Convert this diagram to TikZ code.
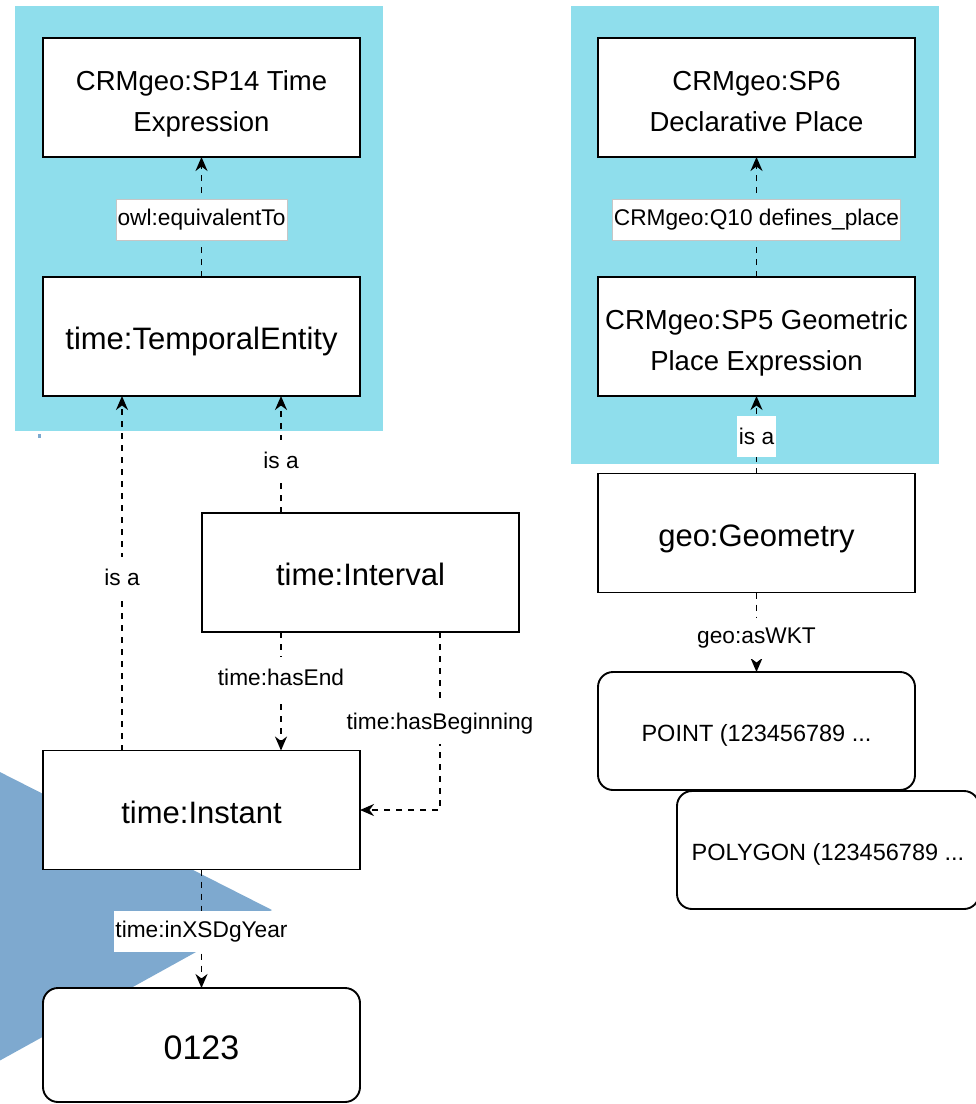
\documentclass[tikz,border=0pt]{standalone}
\usepackage{fontspec}
\setmainfont{Liberation Sans}
\usetikzlibrary{arrows.meta}
\definecolor{panel}{RGB}{143,222,236}
\definecolor{tri}{RGB}{126,169,207}
\begin{document}
\begin{tikzpicture}[x=1pt,y=-1pt,
  box/.style={draw,solid,line width=1.9pt,fill=white,minimum width=317pt,minimum height=119pt,inner sep=0pt,outer sep=0pt,align=center},
  big/.style={font=\fontsize{31}{37}\selectfont,text height=26pt,text depth=0pt},
  two/.style={font=\fontsize{27.5}{41}\selectfont,text height=67pt,text depth=0pt},
  small/.style={font=\fontsize{23.5}{28}\selectfont,text height=20pt,text depth=0pt},
  rbox/.style={box,rounded corners=15pt},
  edge/.style={line width=1.8pt,dash pattern=on 6pt off 6pt,-{Stealth[length=14pt,width=12pt,inset=4.5pt]}},
  lbl/.style={solid,fill=white,font=\fontsize{22.7}{27}\selectfont,inner xsep=1.5pt,inner ysep=0pt,minimum height=41pt},
  lblb/.style={lbl,draw=gray!45,line width=0.6pt}]
\useasboundingbox (0,0) rectangle (976,1104);
\clip (0,0) rectangle (976,1104);
% panels
\fill[panel] (15,6) rectangle (383,431);
\fill[panel] (571,6) rectangle (939,464);
\fill[tri] (38,434) rectangle (41,438);
% triangle
\fill[tri] (-10,767) -- (272,910) -- (-10,1066) -- cycle;
% nodes
\node[box,two] (sp14) at (201.5,97.5) {CRMgeo:SP14 Time\\Expression};
\node[box,big] (te) at (201.5,336.5) {time:TemporalEntity};
\node[box,big] (interval) at (360.5,572.5) {time:Interval};
\node[box,big] (instant) at (201.5,810) {time:Instant};
\node[rbox,font=\fontsize{34}{40}\selectfont,text height=28.5pt,text depth=0pt,minimum height=114pt] (year) at (201.5,1045) {0123};
\node[box,two] (sp6) at (756.5,97.5) {CRMgeo:SP6\\Declarative Place};
\node[box,two] (sp5) at (756.5,336.5) {CRMgeo:SP5 Geometric\\Place Expression};
\node[box,big] (geom) at (756.5,533) {geo:Geometry};
\node[rbox,small,minimum height=118pt] (point) at (756.5,731) {POINT (123456789 ...};
\node[rbox,small,minimum width=302pt,minimum height=118pt] (polygon) at (828,850) {POLYGON (123456789 ...};
% edges
\draw[edge] (te) -- node[lblb,pos=0.48] {owl:equivalentTo} (sp14);
\draw[edge] (instant.north -| 122,0) -- node[lbl,pos=0.487] {is a} (te.south -| 122,0);
\draw[edge] (interval.north -| 281,0) -- node[lbl,pos=0.45] {is a} (te.south -| 281,0);
\draw[edge] (interval.south -| 281,0) -- node[lbl,pos=0.38] {time:hasEnd} (instant.north -| 281,0);
\draw[edge] (interval.south -| 440,0) |- node[lbl,pos=0.256] {time:hasBeginning} (instant.east);
\draw[edge] (instant) -- node[lbl,pos=0.525] {time:inXSDgYear} (year);
\draw[edge] (sp5) -- node[lblb,pos=0.48] {CRMgeo:Q10 defines\_place} (sp6);
\draw[edge] (geom) -- node[lbl,pos=0.48] {is a} (sp5);
\draw[edge] (geom) -- node[lbl,pos=0.575] {geo:asWKT} (point);
\end{tikzpicture}
\end{document}
